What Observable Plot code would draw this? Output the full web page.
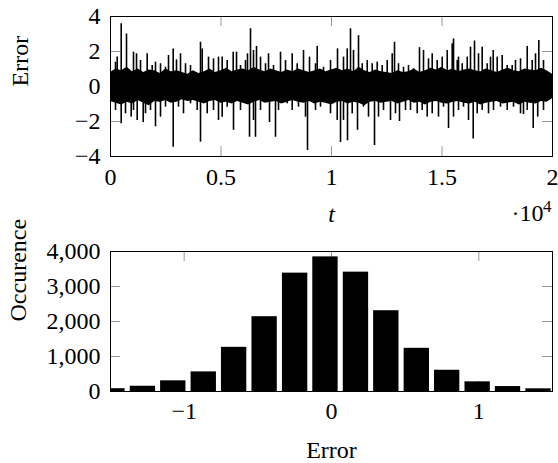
<!DOCTYPE html>
<html><head><meta charset="utf-8">
<script src="https://cdn.jsdelivr.net/npm/d3@7"></script>
<script src="https://cdn.jsdelivr.net/npm/@observablehq/plot@0.6"></script>
<style>
html,body{margin:0;padding:0;background:#fff;overflow:hidden;}
#chart svg{display:block;}
#chart svg, #chart svg text{font-family:"Liberation Serif","Times New Roman",serif !important;}
</style></head><body><div id="chart"></div>
<script>
// ---- Top panel: error signal over t ----
const coreStep = 250; // t spacing of the dense-band envelope samples below
const coreHi = [0.8,1.0,0.9,1.1,0.85,1.0,0.8,0.95,0.9,0.75, 1.0,0.85,0.9,0.8,0.7,0.9,0.75,0.85,1.0,0.8, 0.9,1.05,0.85,0.95,1.0,0.9,1.1,0.95,0.85,1.0, 0.9,0.8,0.95,0.85,1.0,0.9,0.8,0.9,1.0,0.85, 0.95,1.05,0.9,1.0,0.85,1.1,0.9,0.8,0.95,0.85, 0.8,0.75,0.9,0.8,0.85,1.0,0.8,0.9,1.05,0.95, 1.1,0.9,1.0,0.85,0.95,1.0,0.9,0.85,1.0,0.9, 0.8,0.95,1.05,0.9,0.85,1.0,0.95,0.9,1.05,0.9, 0.7];
const coreLo = [-0.85,-0.95,-1.05,-0.9,-1.0,-0.8,-0.95,-1.1,-0.85,-0.9, -0.8,-0.95,-0.9,-0.75,-0.85,-0.8,-0.9,-1.0,-0.85,-0.8, -0.95,-0.9,-1.0,-0.85,-0.95,-1.05,-0.9,-0.8,-0.95,-0.9, -0.85,-1.0,-0.9,-0.8,-0.9,-0.95,-0.85,-1.0,-0.9,-0.95, -1.05,-0.9,-0.85,-1.0,-0.9,-0.95,-1.1,-0.9,-0.85,-0.95, -0.9,-0.85,-1.0,-0.9,-0.8,-0.95,-0.9,-1.05,-0.9,-0.85, -0.95,-1.0,-0.9,-0.85,-0.95,-1.0,-0.9,-1.05,-0.95,-0.9, -0.85,-1.0,-0.95,-0.9,-1.05,-0.9,-0.95,-1.0,-0.85,-0.9, -0.7];
const upT = [226,303,484,724,1041,1177,1358,1660,1887,2036,2263,2489,2625,2837,2987,3168,3394,3620,4073,4149,4435,4661,4887,5054,5280,5552,5702,5883,6109,6199,6335,6471,6607,6788,7014,7150,7376,7693,7919,8222,8448,8733,9005,9276,9353,9638,9955,10272,10543,10711,10860,10996,11222,11389,11616,11842,12068,12294,12521,12747,12851,13032,13258,13485,13711,13982,14163,14390,14557,14783,15010,15236,15462,15521,15689,15747,15915,16141,16290,16471,16652,16819,17046,17195,17317,17498,17724,17951,18177,18326,18553,18856,19082,19231,19381,19593,19774];
const upV = [1.39,1.68,3.58,3.0,1.96,1.87,1.49,1.87,1.2,1.39,1.3,1.1,1.77,2.15,1.52,1.87,1.3,1.2,2.53,2.15,1.68,1.58,1.68,1.68,1.49,1.96,1.96,1.2,1.49,1.87,3.3,2.06,2.29,1.68,1.3,1.87,1.2,1.96,1.49,1.87,1.3,2.06,1.68,1.3,2.29,1.1,1.49,2.15,1.68,2.15,3.3,2.06,2.9,1.3,1.49,1.3,1.39,1.2,1.49,1.87,2.53,1.3,1.1,1.2,1.01,2.22,2.06,1.58,1.87,1.49,1.68,2.06,2.44,2.72,1.49,1.68,1.3,1.68,2.25,2.6,1.87,2.25,1.3,1.68,2.06,1.68,1.77,1.2,1.2,1.49,1.58,2.29,1.49,1.87,2.63,1.49,0.74];
const downT = [226,484,679,937,1041,1208,1480,1584,1810,2036,2263,2489,2837,3077,3303,3620,3923,4073,4376,4661,4887,5054,5280,5566,5883,6290,6471,6561,6788,7195,7466,7602,7996,8222,8507,8824,8914,9276,9503,9955,10258,10408,10543,10724,10937,11177,11448,11675,11946,12127,12353,12670,12896,13077,13349,13575,13878,14104,14331,14557,14842,15068,15295,15521,15747,15973,16200,16412,16593,16819,17105,17331,17648,17951,18236,18553,18688,18856,19127,19331,19593,19774];
const downV = [-1.37,-2.13,-1.56,-1.75,-1.37,-1.94,-2.06,-1.56,-1.37,-2.3,-1.75,-1.18,-3.47,-1.18,-1.56,-0.99,-1.37,-3.18,-1.56,-1.37,-1.94,-1.75,-1.18,-2.5,-1.37,-2.9,-1.94,-2.9,-1.37,-2.06,-2.9,-1.37,-0.99,-1.37,-1.18,-1.75,-3.66,-1.37,-1.18,-1.56,-1.94,-3.2,-1.94,-3.1,-1.56,-2.5,-1.18,-1.75,-3.37,-1.75,-1.37,-1.94,-1.56,-2.0,-1.37,-1.37,-1.56,-1.37,-1.75,-1.56,-1.75,-1.18,-2.4,-1.75,-1.37,-1.18,-1.94,-3.0,-1.56,-1.37,-1.56,-1.37,-1.18,-1.37,-1.18,-1.56,-1.6,-1.37,-2.4,-1.75,-1.37,-0.8];
const timeTicks = [0, 5000, 10000, 15000, 20000];
const timeTickLabels = ["0", "0.5", "1", "1.5", "2"];
const errorTicks = [-4, -2, 0, 2, 4];

// ---- Bottom panel: histogram ----
const binCenters = [-1.487,-1.28,-1.074,-0.867,-0.661,-0.454,-0.247,-0.041,0.166,0.372,0.579,0.785,0.992,1.198,1.405];
const counts = [80,150,305,560,1262,2137,3382,3846,3410,2308,1234,607,276,142,77];
const histXTicks = [-1, 0, 1];
const histYTicks = [0, 1000, 2000, 3000, 4000];

// ---- styling ----
const FONT = "Liberation Serif, Times New Roman, serif";
const W = 558;
const tickLen = 10;
const tickColor = "#999";
const minus = d => d < 0 ? "\u2212" + Math.abs(d) : String(d);

const core = coreHi.map((hi, i) => ({t: i * coreStep, hi, lo: coreLo[i]}));
const spikes = upT.map((t, i) => ({t, v: upV[i]})).concat(downT.map((t, i) => ({t, v: downV[i]})));

const tM = {top: 16, right: 6, bottom: 76, left: 110};
const tH = 232;
const tIH = tH - tM.top - tM.bottom;
const IW = W - tM.left - tM.right;

const topChart = Plot.plot({
  width: W, height: tH,
  marginTop: tM.top, marginRight: tM.right, marginBottom: tM.bottom, marginLeft: tM.left,
  style: {fontFamily: FONT, fontSize: "24px", color: "black", background: "white", overflow: "visible"},
  x: {domain: [0, 20000]},
  y: {domain: [-4, 4]},
  marks: [
    Plot.tickX(timeTicks, {x: d => d, stroke: tickColor, insetBottom: tIH - tickLen}),
    Plot.tickX(timeTicks, {x: d => d, stroke: tickColor, insetTop: tIH - tickLen}),
    Plot.tickY(errorTicks, {y: d => d, stroke: tickColor, insetRight: IW - tickLen}),
    Plot.tickY(errorTicks, {y: d => d, stroke: tickColor, insetLeft: IW - tickLen}),
    Plot.areaY(core, {x: "t", y1: "lo", y2: "hi", fill: "black", clip: true}),
    Plot.ruleX(spikes, {x: "t", y1: 0, y2: "v", stroke: "black", strokeWidth: 1.6}),
    Plot.frame({stroke: "black"}),
    Plot.axisX(timeTicks, {tickSize: 0, tickPadding: 11, tickFormat: d => timeTickLabels[timeTicks.indexOf(d)], label: null}),
    Plot.axisY(errorTicks, {tickSize: 0, tickPadding: 10, tickFormat: minus, label: null}),
    Plot.text(["t"], {frameAnchor: "bottom", dy: 65, lineAnchor: "bottom", fontStyle: "italic", text: d => d}),
    Plot.text(["\u00b710"], {frameAnchor: "bottom-right", dx: -9, dy: 64, lineAnchor: "bottom", textAnchor: "end", text: d => d}),
    Plot.text(["4"], {frameAnchor: "bottom-right", dx: -1, dy: 55, lineAnchor: "bottom", textAnchor: "end", fontSize: 17, text: d => d}),
    Plot.text(["Error"], {frameAnchor: "left", dx: -83, rotate: -90, lineAnchor: "bottom", text: d => d})
  ]
});

const bM = {top: 19, right: 6, bottom: 72, left: 110};
const bH = 231;
const bIH = bH - bM.top - bM.bottom;
const bars = binCenters.map((c, i) => ({c, n: counts[i]}));
const barHalf = 0.086;

const bottomChart = Plot.plot({
  width: W, height: bH,
  marginTop: bM.top, marginRight: bM.right, marginBottom: bM.bottom, marginLeft: bM.left,
  style: {fontFamily: FONT, fontSize: "24px", color: "black", background: "white", overflow: "visible"},
  x: {domain: [-1.5, 1.5]},
  y: {domain: [0, 4000]},
  marks: [
    Plot.tickX(histXTicks, {x: d => d, stroke: tickColor, insetBottom: bIH - tickLen}),
    Plot.tickX(histXTicks, {x: d => d, stroke: tickColor, insetTop: bIH - tickLen}),
    Plot.tickY(histYTicks, {y: d => d, stroke: tickColor, insetRight: IW - tickLen}),
    Plot.tickY(histYTicks, {y: d => d, stroke: tickColor, insetLeft: IW - tickLen}),
    Plot.rect(bars, {x1: d => d.c - barHalf, x2: d => d.c + barHalf, y1: 0, y2: "n", fill: "black", clip: true}),
    Plot.frame({stroke: "black"}),
    Plot.axisX(histXTicks, {tickSize: 0, tickPadding: 10, tickFormat: minus, label: null}),
    Plot.axisY(histYTicks, {tickSize: 0, tickPadding: 10, tickFormat: d3.format(","), label: null}),
    Plot.text(["Error"], {frameAnchor: "bottom", dy: 66, lineAnchor: "bottom", text: d => d}),
    Plot.text(["Occurence"], {frameAnchor: "left", dx: -85, rotate: -90, lineAnchor: "bottom", text: d => d})
  ]
});

const el = document.getElementById("chart");
el.appendChild(topChart);
el.appendChild(bottomChart);
</script>
</body></html>
